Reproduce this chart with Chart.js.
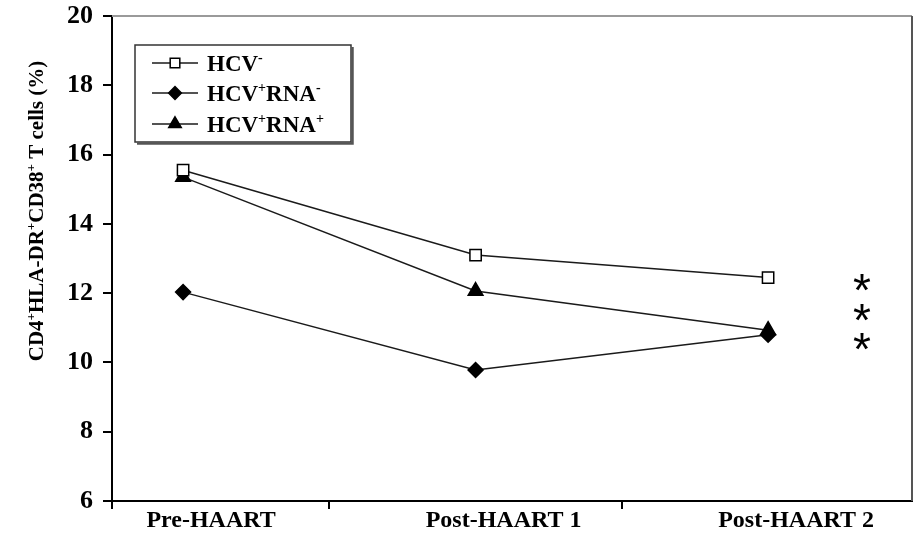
<!DOCTYPE html>
<html>
<head>
<meta charset="utf-8">
<title>CD4+HLA-DR+CD38+ T cells</title>
<script src="https://cdn.jsdelivr.net/npm/chart.js@4.4.1/dist/chart.umd.min.js"></script>
<style>
	html, body { margin: 0; padding: 0; background: #fff; }
</style>
</head>
<body>
<canvas id="chart1" width="916" height="556"></canvas>
<script>
	// values
	var timepoints = ['Pre-HAART', 'Post-HAART 1', 'Post-HAART 2'];
	var hcvNeg = [15.55, 13.1, 12.45];
	var hcvPosRnaNeg = [12.03, 9.78, 10.8];
	var hcvPosRnaPos = [15.35, 12.06, 10.93];
	var yMin = 6;
	var yMax = 20;
	var yStep = 2;

	// text pieces (sup = superscript)
	var yTitle = [{t: 'CD4'}, {t: '+', sup: true}, {t: 'HLA-DR'}, {t: '+', sup: true}, {t: 'CD38'}, {t: '+', sup: true}, {t: ' T cells (%)'}];
	var legendLabels = [
		[{t: 'HCV'}, {t: '-', sup: true}],
		[{t: 'HCV'}, {t: '+', sup: true}, {t: 'RNA'}, {t: '-', sup: true}],
		[{t: 'HCV'}, {t: '+', sup: true}, {t: 'RNA'}, {t: '+', sup: true}]
	];
	var significance = ['*', '*', '*'];

	var serif = '"Liberation Serif", "Times New Roman", serif';

	function toPoints(arr) {
		return arr.map(function (v, i) { return {x: i, y: v}; });
	}

	// draws a string with superscripts, returns its width
	function drawRich(ctx, parts, x, y, size, dryRun) {
		var cx = x;
		parts.forEach(function (p) {
			var sz = p.sup ? Math.round(size * 0.62) : size;
			ctx.font = 'bold ' + sz + 'px ' + serif;
			if (!dryRun) ctx.fillText(p.t, cx, p.sup ? y - size * 0.38 : y);
			cx += ctx.measureText(p.t).width;
		});
		return cx - x;
	}

	var series = [
		{label: legendLabels[0], data: hcvNeg, style: 'rect', radius: 8, fill: '#fff'},
		{label: legendLabels[1], data: hcvPosRnaNeg, style: 'rectRot', radius: 7.5, fill: '#000'},
		{label: legendLabels[2], data: hcvPosRnaPos, style: 'triangle', radius: 8.5, fill: '#000'}
	];

	// frame, y title, legend box and asterisks
	var extras = {
		id: 'extras',
		afterDraw: function (chart) {
			var ctx = chart.ctx;
			var a = chart.chartArea;
			ctx.save();
			// top and right frame lines
			ctx.strokeStyle = '#9a9a9a';
			ctx.lineWidth = 2;
			ctx.beginPath();
			ctx.moveTo(a.left, a.top);
			ctx.lineTo(a.right, a.top);
			ctx.stroke();
			ctx.strokeStyle = '#555';
			ctx.beginPath();
			ctx.moveTo(a.right, a.top);
			ctx.lineTo(a.right, a.bottom);
			ctx.stroke();
			ctx.strokeStyle = '#000';
			ctx.beginPath();
			ctx.moveTo(a.left, a.bottom);
			ctx.lineTo(a.left, a.bottom + 8);
			ctx.stroke();

			ctx.fillStyle = '#000';
			ctx.textBaseline = 'alphabetic';
			ctx.textAlign = 'left';

			// y axis title
			ctx.save();
			ctx.translate(36, 211);
			ctx.rotate(-Math.PI / 2);
			var w = drawRich(ctx, yTitle, 0, 0, 21, true);
			drawRich(ctx, yTitle, -w / 2, 7, 21);
			ctx.restore();

			// legend
			var bx = 135, by = 45, bw = 216, bh = 97;
			ctx.fillStyle = '#fff';
			ctx.fillRect(bx, by, bw, bh);
			ctx.strokeStyle = '#333';
			ctx.lineWidth = 1.5;
			ctx.strokeRect(bx, by, bw, bh);
			ctx.strokeStyle = '#555';
			ctx.lineWidth = 2.5;
			ctx.beginPath();
			ctx.moveTo(bx + 2, by + bh + 1.5);
			ctx.lineTo(bx + bw + 1.5, by + bh + 1.5);
			ctx.lineTo(bx + bw + 1.5, by + 2);
			ctx.stroke();
			var rows = [63, 93, 124];
			series.forEach(function (s, i) {
				var ry = rows[i];
				ctx.strokeStyle = '#1a1a1a';
				ctx.lineWidth = 1.5;
				ctx.beginPath();
				ctx.moveTo(152, ry);
				ctx.lineTo(198, ry);
				ctx.stroke();
				ctx.fillStyle = s.fill;
				ctx.strokeStyle = '#000';
				Chart.helpers.drawPoint(ctx, {pointStyle: s.style, radius: s.radius * 0.85, rotation: 0, borderWidth: 1.5}, 175, ry);
				ctx.fillStyle = '#000';
				drawRich(ctx, s.label, 207, ry + 8, 23);
			});

			// significance marks
			ctx.font = '46px "Liberation Sans", sans-serif';
			ctx.textAlign = 'center';
			var starY = [282, 312, 341];
			significance.forEach(function (m, i) {
				var mm = ctx.measureText(m);
				var off = (mm.actualBoundingBoxAscent - mm.actualBoundingBoxDescent) / 2;
				ctx.fillText(m, 862, starY[i] + off);
			});
			ctx.restore();
		}
	};

	var xFont = {family: serif, size: 24, weight: 'bold', lineHeight: 1};
	var yFont = {family: serif, size: 26, weight: 'bold', lineHeight: 1};

	var ctx = document.getElementById('chart1');
	var chart = new Chart(ctx, {
		type: 'line',
		data: {
			datasets: series.map(function (s) {
				return {
					data: toPoints(s.data),
					borderColor: '#1a1a1a',
					borderWidth: 1.5,
					pointStyle: s.style,
					pointRadius: s.radius,
					pointBackgroundColor: s.fill,
					pointBorderColor: '#000',
					pointBorderWidth: 1.5,
					tension: 0
				};
			})
		},
		options: {
			responsive: false,
			animation: false,
			devicePixelRatio: 1,
			layout: {autoPadding: false, padding: {top: 16, right: 4, left: 0, bottom: 0}},
			plugins: {legend: {display: false}, tooltip: {enabled: false}},
			scales: {
				x: {
					type: 'linear',
					min: -0.243,
					max: 2.492,
					afterBuildTicks: function (s) {
						s.ticks = timepoints.map(function (t, i) { return {value: i}; });
					},
					afterFit: function (s) {
						s.height = 55;
						s.paddingLeft = 0;
						s.paddingRight = 0;
					},
					grid: {offset: true, drawOnChartArea: false, tickLength: 8, color: '#000', lineWidth: 2},
					border: {color: '#000', width: 2},
					ticks: {
						callback: function (v) { return timepoints[v]; },
						labelOffset: 28,
						padding: 0,
						maxRotation: 0,
						autoSkip: false,
						color: '#000',
						font: xFont
					}
				},
				y: {
					min: yMin,
					max: yMax,
					afterFit: function (s) {
						s.width = 112;
						s.paddingTop = 0;
						s.paddingBottom = 0;
					},
					grid: {drawOnChartArea: false, tickLength: 9, color: '#000', lineWidth: 2},
					border: {color: '#000', width: 2},
					ticks: {stepSize: yStep, padding: 10, color: '#000', font: yFont}
				}
			}
		},
		plugins: [extras]
	});
</script>
</body>
</html>
